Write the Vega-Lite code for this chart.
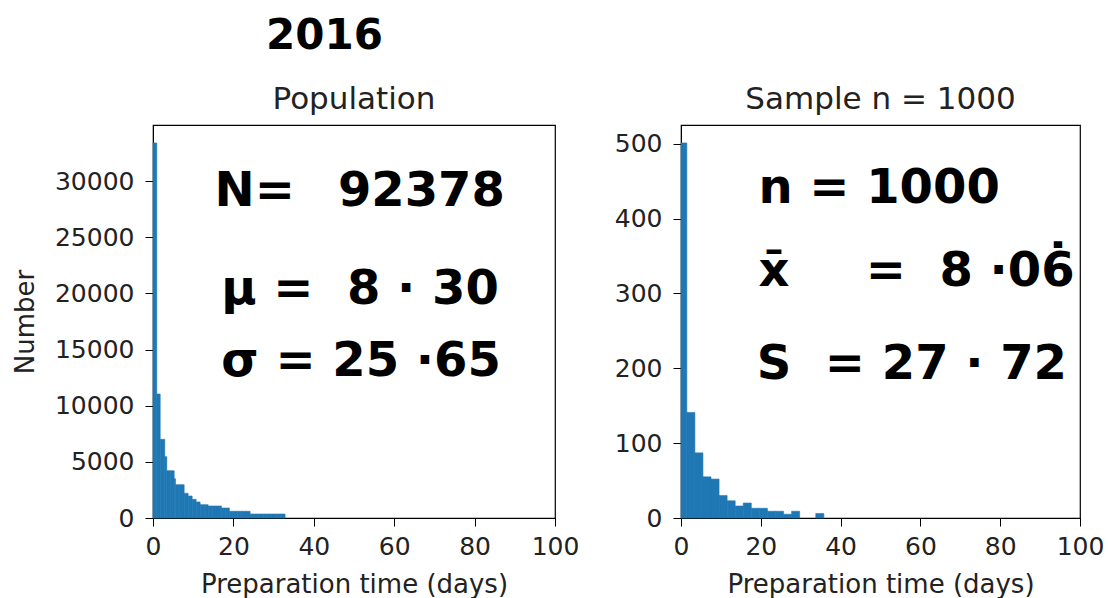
{
  "$schema": "https://vega.github.io/schema/vega-lite/v6.json",
  "background": "white",
  "padding": {"left": 11, "top": 15, "right": 0, "bottom": 0},
  "spacing": 33,
  "title": {"text": "2016", "anchor": "start", "frame": "group", "dx": 113, "fontSize": 42, "fontWeight": "bold", "font": "DejaVu Sans", "color": "#000", "offset": 25},
  "datasets": {
    "pop": [
      {"start": 0, "end": 0.94, "count": 33400},
      {"start": 0.94, "end": 1.79, "count": 11040},
      {"start": 1.79, "end": 2.93, "count": 7010},
      {"start": 2.93, "end": 3.43, "count": 5460},
      {"start": 3.43, "end": 4.35, "count": 4210},
      {"start": 4.35, "end": 5.27, "count": 4210},
      {"start": 5.27, "end": 5.59, "count": 3500},
      {"start": 5.59, "end": 6.67, "count": 2965},
      {"start": 6.67, "end": 7.75, "count": 2965},
      {"start": 7.75, "end": 8.74, "count": 2200},
      {"start": 8.74, "end": 9.73, "count": 1960},
      {"start": 9.73, "end": 10.73, "count": 1665},
      {"start": 10.73, "end": 11.72, "count": 1425},
      {"start": 11.72, "end": 12.71, "count": 1185},
      {"start": 12.71, "end": 13.71, "count": 1185},
      {"start": 13.71, "end": 14.81, "count": 1070},
      {"start": 14.81, "end": 15.92, "count": 1070},
      {"start": 15.92, "end": 17.02, "count": 1070},
      {"start": 17.02, "end": 18.01, "count": 890},
      {"start": 18.01, "end": 19.0, "count": 890},
      {"start": 19.0, "end": 20.03, "count": 600},
      {"start": 20.03, "end": 21.06, "count": 600},
      {"start": 21.06, "end": 22.1, "count": 600},
      {"start": 22.1, "end": 23.13, "count": 600},
      {"start": 23.13, "end": 24.16, "count": 600},
      {"start": 24.16, "end": 25.25, "count": 356},
      {"start": 25.25, "end": 26.33, "count": 356},
      {"start": 26.33, "end": 27.42, "count": 356},
      {"start": 27.42, "end": 28.5, "count": 356},
      {"start": 28.5, "end": 29.59, "count": 356},
      {"start": 29.59, "end": 30.68, "count": 356},
      {"start": 30.68, "end": 31.76, "count": 356},
      {"start": 31.76, "end": 32.85, "count": 356}
    ],
    "samp": [
      {"start": 0, "end": 1.46, "count": 501},
      {"start": 1.46, "end": 3.48, "count": 141},
      {"start": 3.48, "end": 5.5, "count": 87},
      {"start": 5.5, "end": 7.52, "count": 55},
      {"start": 7.52, "end": 9.54, "count": 52},
      {"start": 9.54, "end": 11.56, "count": 30},
      {"start": 11.56, "end": 13.58, "count": 23},
      {"start": 13.58, "end": 15.6, "count": 16},
      {"start": 15.6, "end": 17.62, "count": 20},
      {"start": 17.62, "end": 19.64, "count": 13},
      {"start": 19.64, "end": 21.66, "count": 13},
      {"start": 21.66, "end": 23.68, "count": 9},
      {"start": 23.68, "end": 25.7, "count": 9},
      {"start": 25.7, "end": 27.72, "count": 5},
      {"start": 27.72, "end": 29.74, "count": 9},
      {"start": 33.78, "end": 35.8, "count": 6}
    ],
    "popNotes": [
      {"x": 15.3, "y": 29000, "label": "N=\u00a0\u00a0\u200992378"},
      {"x": 17, "y": 20300, "label": "μ\u00a0=\u00a0\u00a08\u00a0·\u00a030"},
      {"x": 17, "y": 13900, "label": "σ\u00a0=\u00a025\u00a0·65"}
    ],
    "sampNotes": [
      {"x": 19.4, "y": 440, "label": "n\u00a0=\u00a01000"},
      {"x": 19.4, "y": 328, "label": "x̄\u00a0\u00a0\u00a0\u00a0\u2009=\u00a0\u00a08\u00a0·06̇"},
      {"x": 19, "y": 204, "label": "S\u00a0\u00a0=\u00a027\u00a0·\u00a072"}
    ]
  },
  "hconcat": [
    {
      "width": 402,
      "height": 393,
      "title": "Population",
      "layer": [
        {
          "data": {"name": "pop"},
          "mark": {"type": "rect", "color": "#1f77b4", "stroke": "#1f77b4", "strokeWidth": 0.6},
          "encoding": {
            "x": {"field": "start", "type": "quantitative", "scale": {"domain": [0, 100], "nice": false},
                  "axis": {"values": [0, 20, 40, 60, 80, 100], "title": "Preparation time (days)"}},
            "x2": {"field": "end"},
            "y": {"field": "count", "type": "quantitative", "scale": {"domain": [0, 35000], "nice": false},
                  "axis": {"values": [0, 5000, 10000, 15000, 20000, 25000, 30000], "format": "d", "title": "Number"}},
            "y2": {"datum": 0}
          }
        },
        {
          "data": {"name": "popNotes"},
          "mark": {"type": "text", "align": "left", "baseline": "middle", "font": "DejaVu Sans", "fontSize": 48, "fontWeight": "bold", "color": "#000"},
          "encoding": {
            "x": {"field": "x", "type": "quantitative"},
            "y": {"field": "y", "type": "quantitative"},
            "text": {"field": "label"}
          }
        }
      ]
    },
    {
      "width": 399,
      "height": 393,
      "title": "Sample n = 1000",
      "layer": [
        {
          "data": {"name": "samp"},
          "mark": {"type": "rect", "color": "#1f77b4", "stroke": "#1f77b4", "strokeWidth": 0.6},
          "encoding": {
            "x": {"field": "start", "type": "quantitative", "scale": {"domain": [0, 100], "nice": false},
                  "axis": {"values": [0, 20, 40, 60, 80, 100], "title": "Preparation time (days)"}},
            "x2": {"field": "end"},
            "y": {"field": "count", "type": "quantitative", "scale": {"domain": [0, 525], "nice": false},
                  "axis": {"values": [0, 100, 200, 300, 400, 500], "format": "d", "title": null}},
            "y2": {"datum": 0}
          }
        },
        {
          "data": {"name": "sampNotes"},
          "mark": {"type": "text", "align": "left", "baseline": "middle", "font": "DejaVu Sans", "fontSize": 48, "fontWeight": "bold", "color": "#000"},
          "encoding": {
            "x": {"field": "x", "type": "quantitative"},
            "y": {"field": "y", "type": "quantitative"},
            "text": {"field": "label"}
          }
        }
      ]
    }
  ],
  "config": {
    "view": {"stroke": "#000", "strokeWidth": 1.2},
    "axis": {
      "grid": false,
      "domainColor": "#000",
      "tickColor": "#000",
      "tickSize": 8,
      "labelFont": "DejaVu Sans",
      "labelFontSize": 25,
      "labelColor": "#222",
      "labelFlush": false,
      "labelOverlap": false,
      "titleFont": "DejaVu Sans",
      "titleFontSize": 26,
      "titleFontWeight": "normal",
      "titleColor": "#222"
    },
    "axisX": {"labelPadding": 8, "titlePadding": 12},
    "axisY": {"labelPadding": 11, "titlePadding": 16},
    "title": {"font": "DejaVu Sans", "fontSize": 31, "fontWeight": "normal", "color": "#222", "offset": 9}
  }
}
